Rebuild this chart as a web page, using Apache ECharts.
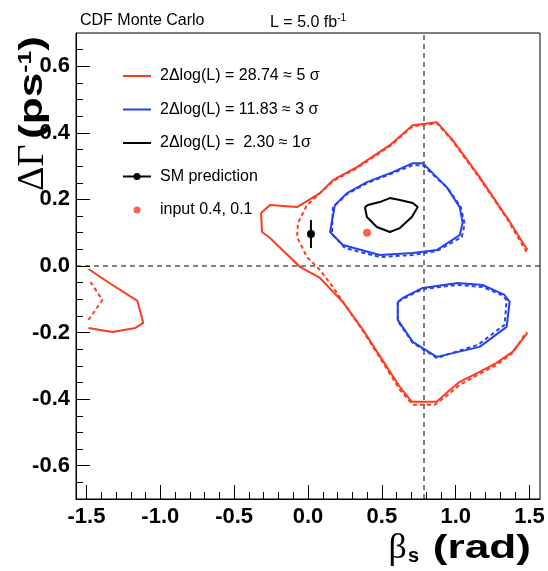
<!DOCTYPE html>
<html>
<head>
<meta charset="utf-8">
<script src="https://cdn.jsdelivr.net/npm/echarts@6/dist/echarts.min.js"></script>
<style>html,body{margin:0;padding:0;background:#fff}#c{width:548px;height:571px}</style>
</head>
<body>
<div id="c"></div>
<script>
// ---- data (beta_s in rad, DeltaGamma in ps^-1) ----
const xMajorTicks = [-1.5, -1.0, -0.5, 0.0, 0.5, 1.0, 1.5];
const xMinorTicks = [-1.5,-1.4,-1.3,-1.2,-1.1,-1.0,-0.9,-0.8,-0.7,-0.6,-0.5,-0.4,-0.3,-0.2,-0.1,0.0,0.1,0.2,0.3,0.4,0.5,0.6,0.7,0.8,0.9,1.0,1.1,1.2,1.3,1.4,1.5];
const yMajorTicks = [-0.6, -0.4, -0.2, 0.0, 0.2, 0.4, 0.6];
const yMinorTicks = [-0.65,-0.6,-0.55,-0.5,-0.45,-0.4,-0.35,-0.3,-0.25,-0.2,-0.15,-0.1,-0.05,0.0,0.05,0.1,0.15,0.2,0.25,0.3,0.35,0.4,0.45,0.5,0.55,0.6,0.65];
const xRange = [-Math.PI/2, Math.PI/2];
const yRange = [-0.7, 0.7];

const legendNames = ['2\u0394log(L) = 28.74 \u2248 5 \u03c3', '2\u0394log(L) = 11.83 \u2248 3 \u03c3', '2\u0394log(L) =  2.30 \u2248 1\u03c3', 'SM prediction', 'input 0.4, 0.1'];

const red5sigmaSolid = [[1.486,0.048],[1.345,0.147],[1.162,0.267],[0.980,0.378],[0.872,0.432],[0.709,0.423],[0.554,0.363],[0.331,0.297],[0.169,0.258],[0.081,0.219],[-0.074,0.177],[-0.257,0.183],[-0.318,0.159],[-0.311,0.102],[-0.257,0.084],[-0.054,-0.003],[0.081,-0.036],[0.236,-0.108],[0.372,-0.192],[0.534,-0.303],[0.622,-0.363],[0.703,-0.408],[0.872,-0.408],[0.939,-0.381],[1.027,-0.348],[1.162,-0.318],[1.277,-0.291],[1.385,-0.258],[1.486,-0.201]];
const red5sigmaDashed = [[1.480,0.042],[1.345,0.144],[1.162,0.264],[0.980,0.375],[0.872,0.429],[0.709,0.420],[0.554,0.360],[0.331,0.294],[0.169,0.255],[0.081,0.219],[-0.007,0.183],[-0.068,0.129],[-0.074,0.087],[-0.007,0.027],[0.081,-0.012],[0.169,-0.063],[0.236,-0.108],[0.372,-0.195],[0.534,-0.309],[0.622,-0.372],[0.709,-0.417],[0.858,-0.417],[0.939,-0.390],[1.027,-0.357],[1.162,-0.324],[1.277,-0.297],[1.385,-0.261],[1.480,-0.198]];
const red5sigmaLeftSolid = [[-1.486,-0.009],[-1.324,-0.057],[-1.155,-0.105],[-1.115,-0.171],[-1.169,-0.186],[-1.324,-0.198],[-1.486,-0.186]];
const red5sigmaLeftDashed = [[-1.473,-0.048],[-1.392,-0.102],[-1.486,-0.162]];

const blue3sigmaUpperSolid = [[0.182,0.183],[0.149,0.102],[0.236,0.063],[0.486,0.033],[0.709,0.039],[0.872,0.048],[1.027,0.093],[1.047,0.129],[1.027,0.177],[0.939,0.237],[0.777,0.309],[0.709,0.309],[0.574,0.282],[0.399,0.252],[0.264,0.219],[0.182,0.183]];
const blue3sigmaUpperDashed = [[0.169,0.177],[0.162,0.096],[0.250,0.054],[0.486,0.027],[0.709,0.033],[0.872,0.045],[1.041,0.087],[1.061,0.126],[1.034,0.177],[0.946,0.234],[0.777,0.303],[0.709,0.303],[0.574,0.279],[0.399,0.249],[0.264,0.216],[0.169,0.177]];
const blue3sigmaLowerSolid = [[0.608,-0.108],[0.608,-0.162],[0.709,-0.228],[0.872,-0.273],[1.162,-0.243],[1.345,-0.183],[1.365,-0.108],[1.331,-0.087],[1.182,-0.057],[1.014,-0.051],[0.777,-0.066],[0.642,-0.096],[0.608,-0.108]];
const blue3sigmaLowerDashed = [[0.608,-0.108],[0.608,-0.165],[0.709,-0.231],[0.872,-0.276],[1.149,-0.237],[1.331,-0.177],[1.345,-0.102],[1.311,-0.087],[1.182,-0.063],[1.014,-0.057],[0.777,-0.069],[0.642,-0.099],[0.608,-0.108]];

const black1sigma = [[0.385,0.177],[0.399,0.147],[0.466,0.117],[0.554,0.102],[0.622,0.114],[0.703,0.147],[0.743,0.177],[0.709,0.189],[0.622,0.198],[0.554,0.204],[0.486,0.192],[0.405,0.183],[0.385,0.177]];

const smPrediction = [[0.02, 0.096]];
const smErrorBar = [[0.02, 0.054], [0.02, 0.138]];
const inputPoint = [[0.4, 0.1]];
const smBetaLine = [[Math.PI/4, -0.7], [Math.PI/4, 0.7]];
const zeroLine = [[-Math.PI/2, 0], [Math.PI/2, 0]];

// ---- styles ----
const RED = '#ff3b1f', BLUE = '#2343f0', BLACK = '#000';
const SANS = '"Liberation Sans", Arial, Helvetica, sans-serif';
const SERIF = '"Liberation Serif", "DejaVu Serif", serif';
const ICON_LINE = 'path://M0,0M28,14M0,6H28V8H0Z';
const ICON_LINE_DOT = 'path://M0,0M28,14M0,6H28V8H0Z M14,3.5A3.5,3.5 0 1,1 14,10.5A3.5,3.5 0 1,1 14,3.5Z';
const ICON_DOT = 'path://M0,0M28,14M14,3.5A3.5,3.5 0 1,1 14,10.5A3.5,3.5 0 1,1 14,3.5Z';

function lineSeries(name, data, color, dashed, extra) {
  return Object.assign({
    type: 'line', name: name, data: data, symbol: 'none', xAxisIndex: 0, yAxisIndex: 0,
    lineStyle: { color: color, width: 2, type: dashed ? [4, 3] : 'solid' },
    itemStyle: { color: color }, silent: true, z: 3
  }, extra || {});
}

const chart = echarts.init(document.getElementById('c'), null, { renderer: 'canvas' });
const gridBox = { left: 76, right: 8, top: 33, bottom: 72 };

const titleFont = { fontFamily: SANS, fontWeight: 'bold', fontSize: 34, fill: '#000' };

const option = {
  animation: false,
  backgroundColor: '#fff',
  title: [
    { text: 'CDF Monte Carlo', left: 75, top: 8, textStyle: { fontFamily: SANS, fontSize: 16, fontWeight: 'normal', color: '#000' } },
    { text: 'L = 5.0 fb{sup|-1}', left: 265, top: 8, textStyle: { fontFamily: SANS, fontSize: 16, fontWeight: 'normal', color: '#000',
        rich: { sup: { fontFamily: SANS, fontSize: 10, padding: [0, 0, 9, 0], color: '#000' } } } }
  ],
  grid: [
    Object.assign({ show: true, borderColor: '#000', borderWidth: 1, backgroundColor: 'transparent' }, gridBox),
    Object.assign({ show: false }, gridBox)
  ],
  xAxis: [
    { type: 'value', gridIndex: 0, min: xRange[0], max: xRange[1], position: 'bottom',
      axisLine: { show: true, onZero: false, lineStyle: { color: '#000', width: 1 } },
      axisTick: { show: true, inside: true, length: 14, customValues: xMajorTicks, lineStyle: { color: '#000' } },
      axisLabel: { customValues: xMajorTicks, formatter: v => v.toFixed(1), fontFamily: SANS, fontWeight: 'bold', fontSize: 22, color: '#000', margin: 7 },
      splitLine: { show: false } },
    { type: 'value', gridIndex: 1, min: xRange[0], max: xRange[1], position: 'bottom',
      axisLine: { show: false, onZero: false },
      axisTick: { show: true, inside: true, length: 7, customValues: xMinorTicks, lineStyle: { color: '#000' } },
      axisLabel: { show: false }, splitLine: { show: false } }
  ],
  yAxis: [
    { type: 'value', gridIndex: 0, min: yRange[0], max: yRange[1], position: 'left',
      axisLine: { show: true, onZero: false, lineStyle: { color: '#000', width: 1 } },
      axisTick: { show: true, inside: true, length: 14, customValues: yMajorTicks, lineStyle: { color: '#000' } },
      axisLabel: { customValues: yMajorTicks, formatter: v => v.toFixed(1), fontFamily: SANS, fontWeight: 'bold', fontSize: 22, color: '#000', margin: 6 },
      splitLine: { show: false } },
    { type: 'value', gridIndex: 1, min: yRange[0], max: yRange[1], position: 'left',
      axisLine: { show: false, onZero: false },
      axisTick: { show: true, inside: true, length: 7, customValues: yMinorTicks, lineStyle: { color: '#000' } },
      axisLabel: { show: false }, splitLine: { show: false } }
  ],
  legend: {
    orient: 'vertical', left: 118, top: 63, itemWidth: 28, itemHeight: 14, itemGap: 17.5,
    data: [
      { name: legendNames[0], icon: ICON_LINE, itemStyle: { color: RED } },
      { name: legendNames[1], icon: ICON_LINE, itemStyle: { color: BLUE } },
      { name: legendNames[2], icon: ICON_LINE, itemStyle: { color: BLACK } },
      { name: legendNames[3], icon: ICON_LINE_DOT, itemStyle: { color: BLACK } },
      { name: legendNames[4], icon: ICON_DOT, itemStyle: { color: RED } }
    ],
    textStyle: { fontFamily: SANS, fontSize: 16, color: '#000', padding: [0, 0, 0, 4] },
    selectedMode: false
  },
  graphic: [
    // x-axis title: beta_s (rad)
    { type: 'text', x: 419, y: 549, silent: true,
      style: { text: '{g|\u03b2}{sub|s}', fill: '#000', align: 'right', verticalAlign: 'middle',
        rich: { g: { fontFamily: SERIF, fontSize: 36, fill: '#000' },
                sub: { fontFamily: SANS, fontWeight: 'bold', fontSize: 20, padding: [14, 0, 0, 1], fill: '#000' } } } },
    { type: 'text', x: 531, y: 549, scaleX: 1.3, silent: true,
      style: Object.assign({ text: '(rad)', align: 'right', verticalAlign: 'middle' }, titleFont, { font: 'bold 34px ' + SANS }) },
    // y-axis title: DeltaGamma (ps^-1)
    { type: 'text', x: 33, y: 191, rotation: Math.PI / 2, silent: true,
      style: { text: '\u0394\u0393', fill: '#000', align: 'left', verticalAlign: 'middle', font: '38px ' + SERIF } },
    { type: 'text', x: 33, y: 139, rotation: Math.PI / 2, scaleX: 1.3, silent: true,
      style: { text: '{b|(ps}{sup|-1}{b|)}', fill: '#000', align: 'left', verticalAlign: 'middle',
        rich: { b: { fontFamily: SANS, fontWeight: 'bold', fontSize: 34, fill: '#000' },
                sup: { fontFamily: SANS, fontWeight: 'bold', fontSize: 19, padding: [0, 0, 14, 0], fill: '#000' } } } }
  ],
  series: [
    lineSeries('', zeroLine, '#000', false, { lineStyle: { color: '#000', width: 1, type: [5, 4] }, z: 2 }),
    lineSeries('', smBetaLine, '#000', false, { lineStyle: { color: '#000', width: 1, type: [5, 4] }, z: 2 }),
    lineSeries(legendNames[0], red5sigmaSolid, RED, false),
    lineSeries('', red5sigmaDashed, RED, true),
    lineSeries('', red5sigmaLeftSolid, RED, false),
    lineSeries('', red5sigmaLeftDashed, RED, true),
    lineSeries(legendNames[1], blue3sigmaUpperSolid, BLUE, false),
    lineSeries('', blue3sigmaUpperDashed, BLUE, true),
    lineSeries('', blue3sigmaLowerSolid, BLUE, false),
    lineSeries('', blue3sigmaLowerDashed, BLUE, true),
    lineSeries(legendNames[2], black1sigma, BLACK, false),
    lineSeries('', smErrorBar, BLACK, false),
    lineSeries(legendNames[3], smPrediction, BLACK, false, { symbol: 'circle', symbolSize: 8, showSymbol: true }),
    { type: 'scatter', name: legendNames[4], data: inputPoint, symbol: 'circle', symbolSize: 8, itemStyle: { color: RED }, silent: true, z: 4 }
  ]
};
chart.setOption(option);
</script>
</body>
</html>
